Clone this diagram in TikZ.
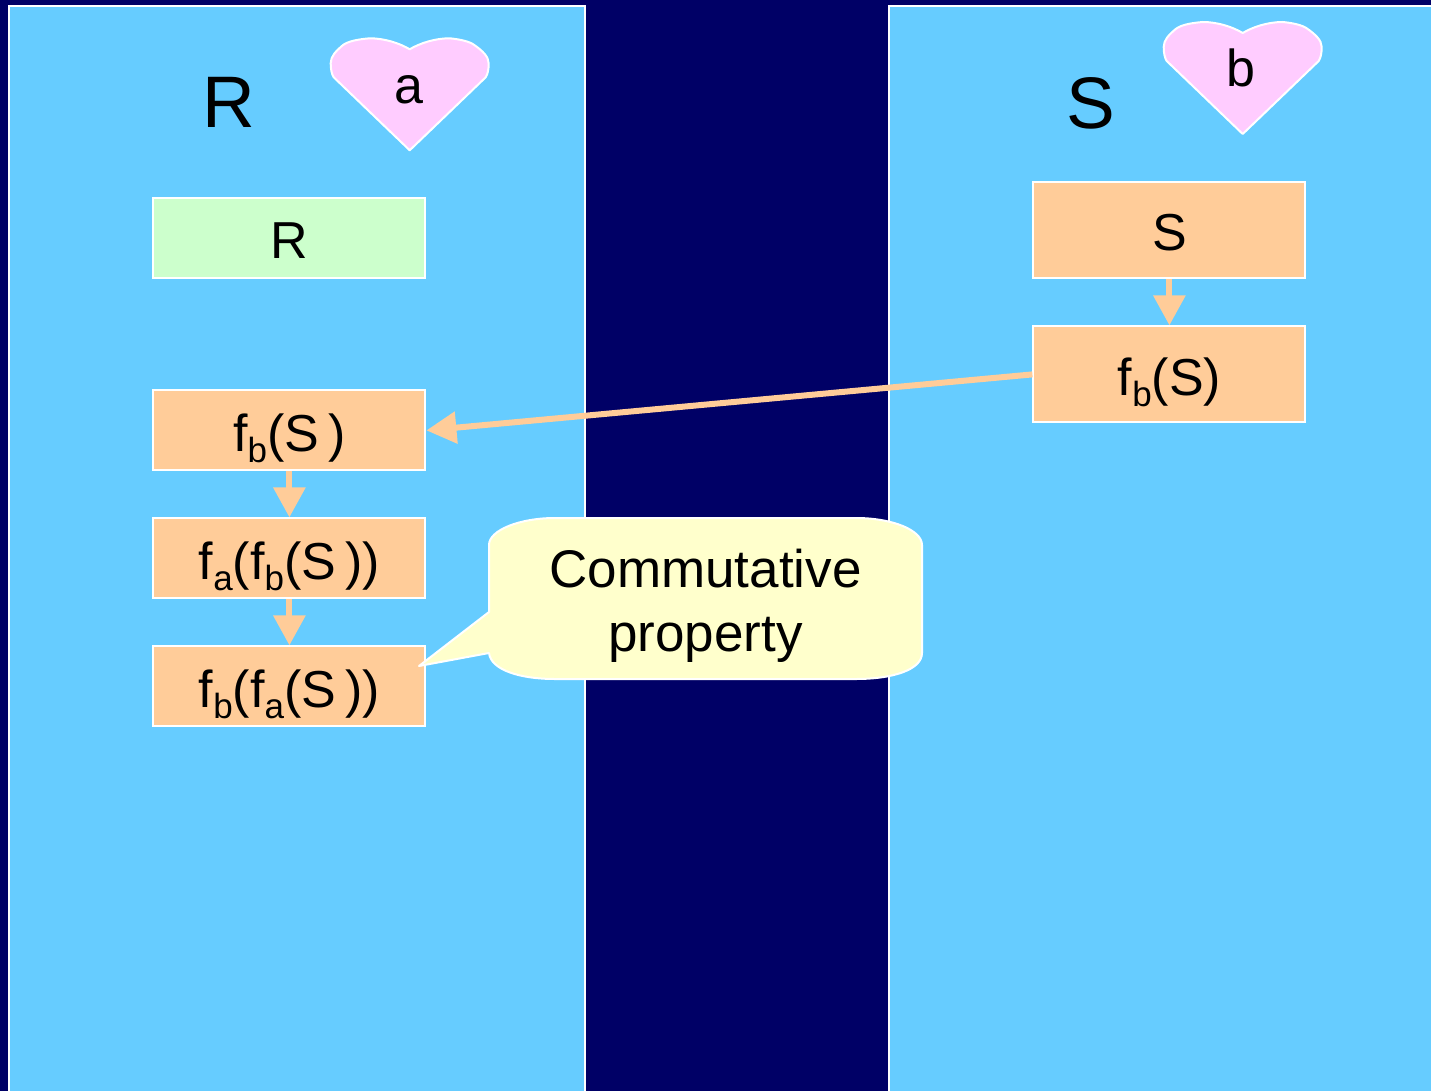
\documentclass[tikz,border=0pt]{standalone}
\usepackage{fontspec}
\setmainfont{Liberation Sans}
\usetikzlibrary{arrows.meta}
\newcommand{\subs}[1]{\raisebox{-0.22em}[0pt][0pt]{\fontsize{35}{35}\selectfont #1}}
\newcommand{\thinsp}{{\fontsize{33}{33}\selectfont\ }}
\tikzset{
  x=1pt,y=-1pt,
  panel/.style={draw=white,line width=2pt,fill=panelblue},
  boxbase/.style={draw=white,line width=2pt,minimum width=272pt,inner sep=0pt,text height=46pt,text depth=4pt,font=\fontsize{52}{52}\selectfont,anchor=center},
  orangebox/.style={boxbase,fill=boxorange},
  greenbox/.style={boxbase,fill=boxgreen},
  plainletter/.style={text height=44pt},
  flow/.style={draw=boxorange,line width=6pt,-{Triangle[length=30pt,width=31pt,fill=boxorange]},shorten >=0pt},
  heart/.style={draw=white,line width=2pt,fill=heartpink,line join=round},
  title/.style={font=\fontsize{73}{73}\selectfont,inner sep=0pt},
  heartlabel/.style={font=\fontsize{52}{52}\selectfont,inner sep=0pt},
  callout/.style={draw=white,line width=2pt,fill=calloutyellow,line join=round},
  callouttext/.style={font=\fontsize{53}{64}\selectfont,align=center,inner sep=0pt}
}
\definecolor{bgnavy}{HTML}{000066}
\definecolor{panelblue}{HTML}{66CCFF}
\definecolor{boxorange}{HTML}{FFCC99}
\definecolor{boxgreen}{HTML}{CCFFCC}
\definecolor{heartpink}{HTML}{FFCCFF}
\definecolor{calloutyellow}{HTML}{FFFFCC}
\newcommand{\heartshape}[2]{%
  \draw[heart,shift={(#1,#2)}] (0,49) .. controls (-10,43) and (-25,38) .. (-40,38)
    .. controls (-52,39) and (-62,41) .. (-67,45)
    .. controls (-74,51) and (-79,56) .. (-79,63)
    .. controls (-79,69) and (-78,74) .. (-76,77)
    -- (0,150) -- (76,77)
    .. controls (78,74) and (79,69) .. (79,63)
    .. controls (79,56) and (72,50) .. (65,45)
    .. controls (60,41) and (50,39) .. (40,38)
    .. controls (25,38) and (10,43) .. (0,49) -- cycle;}
\begin{document}
\begin{tikzpicture}
\useasboundingbox (0,0) rectangle (1431,1091);
\clip (0,0) rectangle (1431,1091);
\fill[bgnavy] (0,0) rectangle (1431,1091);
\draw[panel] (9.4,6.4) rectangle (585.4,1110);
\draw[panel] (889.4,6.4) rectangle (1450,1110);

\node[title] (titleR) at (229,102.5) {R};
\node[title] (titleS) at (1090.5,103) {S};

\heartshape{409.7}{0.3}
\node[heartlabel] (a) at (408.5,90) {a};
\heartshape{1242.7}{-16}
\node[heartlabel] (b) at (1241,67.5) {b};

\node[greenbox,plainletter,minimum height=80pt] (R) at (289.4,238.4) {R};
\node[orangebox,minimum height=80pt] (fbS) at (289.4,430.4) {f\subs{b}(S\thinsp)};
\node[orangebox,minimum height=80pt] (fafb) at (289.4,558.4) {f\subs{a}(f\subs{b}(S\thinsp))};
\node[orangebox,minimum height=80pt] (fbfa) at (289.4,686.4) {f\subs{b}(f\subs{a}(S\thinsp))};
\node[orangebox,plainletter,minimum height=96pt] (S) at (1169.4,230.4) {S};
\node[orangebox,minimum height=96pt] (fbSr) at (1169.4,374.4) {f\subs{b}(S)};

\draw[flow] (S) -- (fbSr);
\draw[flow] (fbS) -- (fafb);
\draw[flow] (fafb) -- (fbfa);
\draw[flow] (fbSr.west) -- (fbS.east);

\coordinate (tip) at (419,666);
\draw[callout] (489,612) -- (tip) -- (489,653)
  .. controls (491,670) and (520,679) .. (555,679)
  -- (856,679)
  .. controls (892,679) and (922,670) .. (922,653)
  -- (922,545)
  .. controls (922,530) and (892,518) .. (856,518)
  -- (555,518)
  .. controls (520,518) and (489,530) .. (489,545) -- cycle;
\node[callouttext] (note) at (705.5,605.5) {Commutative\\property};
\end{tikzpicture}
\end{document}
